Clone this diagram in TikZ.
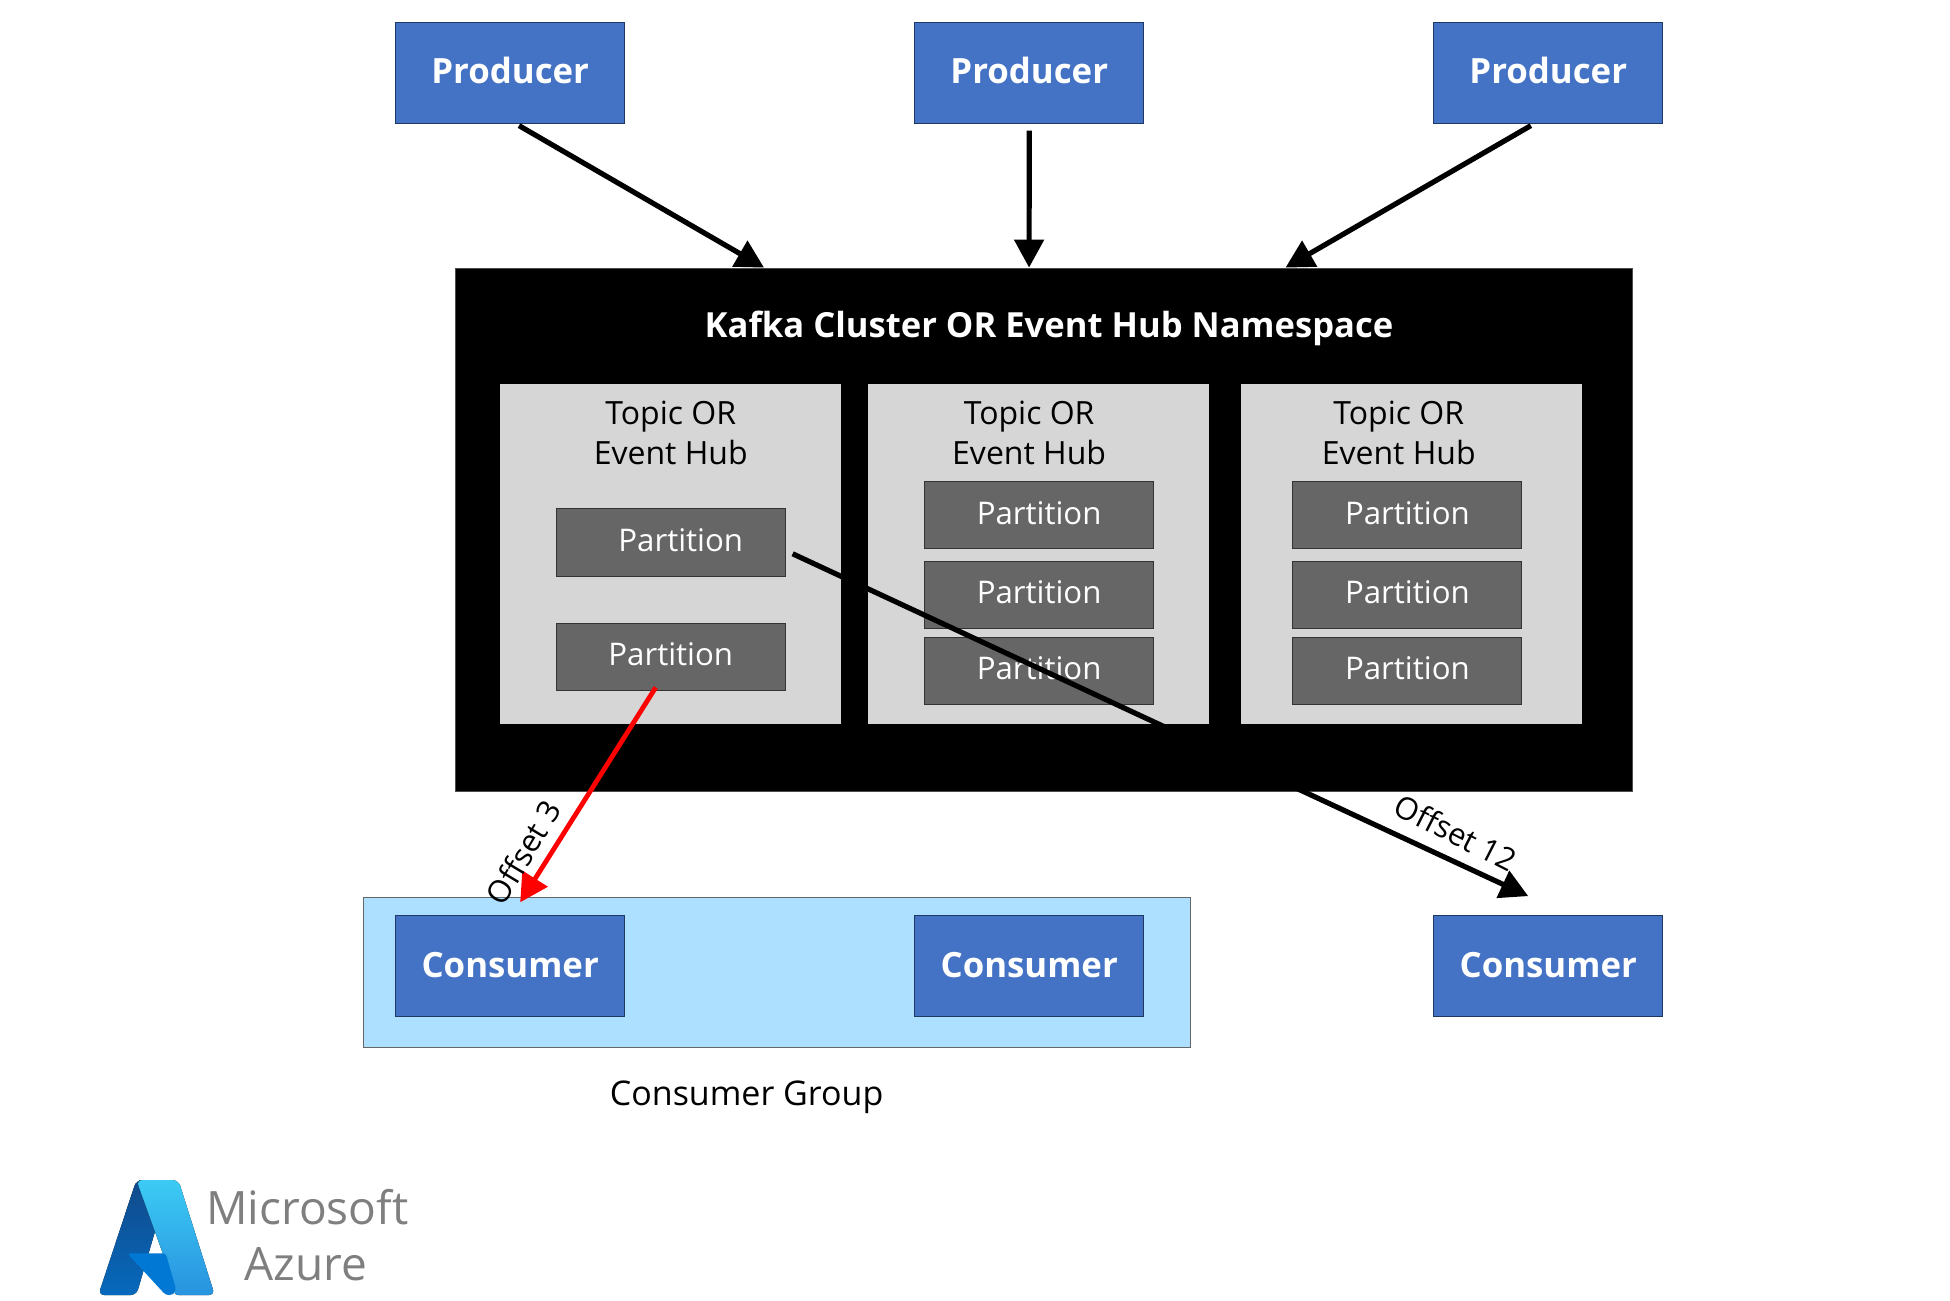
\documentclass[tikz,border=0pt]{standalone}
\usepackage{fontspec}
\setmainfont{Open Sans}
\usetikzlibrary{arrows.meta,calc,positioning}
\definecolor{actorblue}{HTML}{4472C4}
\definecolor{actorline}{HTML}{1F3864}
\definecolor{panelgray}{HTML}{D6D6D6}
\definecolor{partgray}{HTML}{666666}
\definecolor{groupblue}{HTML}{ADDFFF}
\definecolor{logotext}{HTML}{7F7F7F}
\definecolor{logodarktop}{HTML}{114A8B}
\definecolor{logodarkbot}{HTML}{0669BC}
\definecolor{logolighttop}{HTML}{3CCBF4}
\definecolor{logolightbot}{HTML}{2892DF}
\definecolor{logomid}{HTML}{0078D4}
\tikzset{
        block/.style = {draw, rectangle, inner sep=0pt, outer sep=0pt, line width=0.5pt},
        actor/.style = {block, fill=actorblue, draw=actorline, text=white,
            minimum width=114.5pt, minimum height=50.4pt,
            text height=13pt, text depth=2.2pt,
            font=\fontsize{17.4}{20}\selectfont\bfseries},
        panel/.style = {rectangle, fill=panelgray, inner sep=0pt, outer sep=0pt,
            minimum width=170.5pt, minimum height=170pt},
        part/.style = {block, fill=partgray, draw=black!80, text=white,
            minimum width=114.5pt, minimum height=33.6pt,
            text height=11pt, text depth=2pt,
            font=\fontsize{15.6}{18}\selectfont},
        paneltitle/.style = {align=center, inner sep=0pt,
            font=\fontsize{16}{20}\selectfont},
        arrow/.style = {draw, line width=2.6pt,
            -{Triangle[length=14pt,width=14.5pt]}},
        offset/.style = {font=\fontsize{15.5}{18}\selectfont, inner sep=0pt},
    }
\begin{document}
\begin{tikzpicture}[x=0.6222pt,y=-0.6222pt]
    \useasboundingbox (0,0) rectangle (1567,1044.7);

    % producers
    \node[actor] (prodA) at (410,58.5) {Producer};
    \node[actor, right=145pt of prodA] (prodB) {Producer};
    \node[actor, right=145pt of prodB] (prodC) {Producer};

    % cluster
    \node[block, fill=black, draw=black!70, minimum width=588.6pt,
        minimum height=261.3pt] (cluster) at (839,426) {};
    \node[text=white, inner sep=0pt, font=\fontsize{17.3}{20}\selectfont\bfseries]
        (clusterTitle) at (843,264) {Kafka Cluster OR Event Hub Namespace};

    % topics
    \node[panel] (topicA) at (539,445.5) {};
    \node[panel, right=13.4pt of topicA] (topicB) {};
    \node[panel, right=16pt of topicB] (topicC) {};
    \node[paneltitle] (titleA) at (539,348) {Topic OR\\Event Hub};
    \node[paneltitle] (titleB) at (827,348) {Topic OR\\Event Hub};
    \node[paneltitle] (titleC) at (1124,348) {Topic OR\\Event Hub};

    % partitions
    \node[part] (partA) at (539,436) {\hspace*{10pt}Partition};
    \node[part, below=23.6pt of partA] (partB) {Partition};
    \node[part] (partC) at (835,414) {Partition};
    \node[part, below=6.2pt of partC] (partD) {Partition};
    \node[part, below=4.4pt of partD] (partE) {Partition};
    \node[part] (partF) at (1131,414) {Partition};
    \node[part, below=6.2pt of partF] (partG) {Partition};
    \node[part, below=4.4pt of partG] (partH) {Partition};

    % consumers
    \node[block, fill=groupblue, draw=black!60, minimum width=413.8pt,
        minimum height=75.3pt] (group) at (624.5,781.5) {};
    \node[actor] (consA) at (410,776.5) {Consumer};
    \node[actor, right=145pt of consA] (consB) {Consumer};
    \node[actor, right=145pt of consB] (consC) {Consumer};
    \node[font=\fontsize{17}{20}\selectfont, inner sep=0pt] (groupLabel) at (600,882) {Consumer Group};

    % arrows
    \draw[arrow] ([xshift=4.4pt,yshift=-1.2pt]prodA.south) -- ([xshift=-140pt,yshift=.6pt]cluster.north);
    \draw[arrow] ([yshift=-3.7pt]prodB.south) -- ([xshift=-7.5pt,yshift=.6pt]cluster.north);
    \draw[arrow] ([xshift=-8.7pt,yshift=-1.2pt]prodC.south) -- ([xshift=120.7pt,yshift=.6pt]cluster.north);
    \draw[arrow] ([xshift=3.7pt,yshift=-5.6pt]partA.east) -- ([xshift=-10pt,yshift=9.9pt]consC.north);
    \draw[arrow, red, line width=2.4pt] ([xshift=-7.5pt,yshift=1.6pt]partB.south) -- ([xshift=5pt,yshift=6.8pt]consA.north);

    \node[offset, rotate=59] (offsetA) at (420.5,685) {Offset 3};
    \node[offset, rotate=-27] (offsetB) at (1170,669) {Offset 12};

    % logo
    \begin{scope}[shift={(39.4,923.6)}, x=0.1667pt, y=-0.1667pt]
        \fill[top color=logodarktop, bottom color=logodarkbot, rounded corners=3pt]
            (262,92) -- (148,437) -- (262,437) -- (322,232) -- (288,92) -- cycle;
        \fill[top color=logolighttop, bottom color=logolightbot, rounded corners=3pt]
            (262,92) -- (388,92) -- (497,437) -- (370,437) -- (380,420) -- cycle;
        \fill[logomid, rounded corners=1.5pt]
            (235,312) -- (350,312) -- (381,420) -- (370,437) -- (350,437) -- cycle;
    \end{scope}
    \node[text=logotext, inner sep=0pt, font=\fontsize{23}{26}\selectfont] (logoA) at (247,970) {Microsoft};
    \node[text=logotext, inner sep=0pt, font=\fontsize{23}{26}\selectfont] (logoB) at (246,1016) {Azure};
\end{tikzpicture}
\end{document}
